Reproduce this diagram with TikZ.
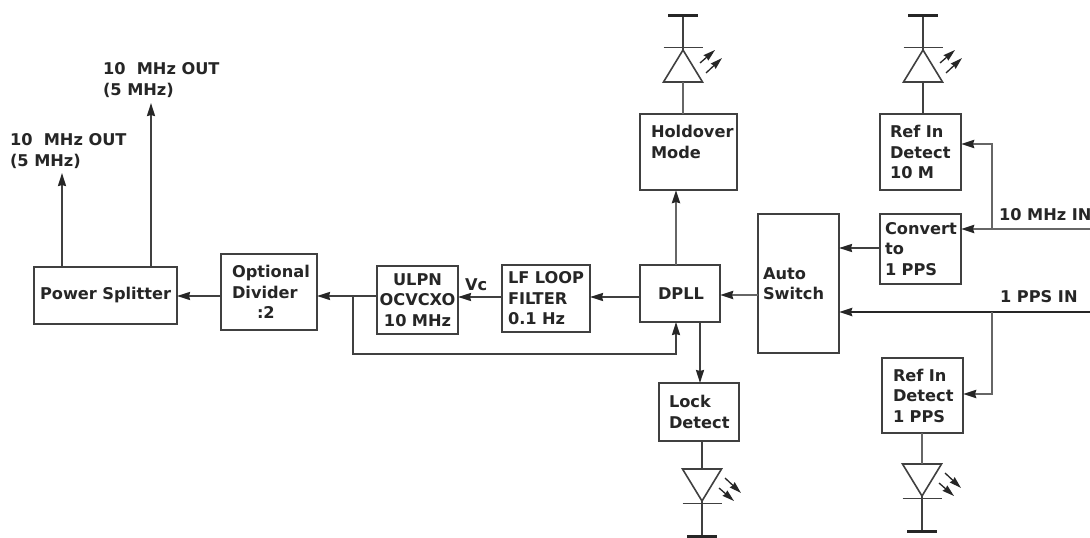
\documentclass[tikz,border=0pt]{standalone}
\usepackage{fontspec}
\setmainfont{DejaVu Sans}
\usetikzlibrary{arrows.meta,positioning}
\definecolor{wire}{gray}{0.25}

\tikzset{
  pics/led/.style={code={
    \draw[wire, line width=1.6pt, line join=miter] (-19.5,0) -- (19.5,0) -- (0,-32) -- cycle;
    \draw[wire, line width=1.6pt] (-19.5,-34.5) -- (19.5,-34.5);
    \draw[wire, line width=1.8pt] (0,-32) -- (0,-67);
    \draw[black!85, line width=3pt] (-15,-67) -- (15,-67);
    \draw[black!85, line width=1.3pt, ->, >={Stealth[length=12pt,width=7pt,inset=1pt]}] (17,-19) -- (32,-32);
    \draw[black!85, line width=1.3pt, ->, >={Stealth[length=12pt,width=7pt,inset=1pt]}] (23,-9) -- (39,-24);
  }}
}

\begin{document}
\begin{tikzpicture}[x=1pt, y=-1pt, >={Stealth[length=13pt,width=8pt,inset=1pt,color=black!85]},
  blk/.style n args={3}{draw=wire, line width=2.1pt, outer sep=0pt, align=left,
    minimum width=#1pt, minimum height=#2pt, inner xsep=#3pt, inner ysep=0pt, text width=#1pt-2*#3pt,
    font=\fontsize{16.2}{20.5}\selectfont\bfseries, text=black!85},
  txt/.style={inner sep=0pt, outer sep=0pt, align=left, font=\fontsize{16.2}{21}\selectfont\bfseries, text=black!85},
  conn/.style={draw=wire, line width=1.9pt},
  fat/.style={draw=wire!80, line width=2.6pt}]
  \useasboundingbox (0,0) rectangle (1090,538);
  \fill[white] (0,0) rectangle (1090,538);

  % main row
  \node[blk={143}{57}{6}] (power) at (105.5,295.5) {\mbox{Power Splitter}};
  \node[blk={96}{76}{11}] (divider) [right=44pt of power, yshift=3.5pt] {Optional\\Divider\\\hspace*{25pt}:2};
  \node[blk={81}{68}{0}, align=center] (ulpn) [right=60pt of divider, yshift=-8pt] {ULPN\\OCVCXO\\10 MHz};
  \node[blk={88}{67}{6}] (lf) [right=44pt of ulpn, yshift=1.5pt] {LF LOOP\\FILTER\\0.1 Hz};
  \node[blk={80}{57}{18}] (dpll) [right=50pt of lf, yshift=5pt] {\raisebox{-1.5pt}{DPLL}};
  \node[blk={81}{139}{5}] (auto) [right=38pt of dpll, yshift=10pt] {Auto\\Switch};
  \node[blk={81}{70}{5}] (convert) [right=41pt of auto, yshift=34.5pt] {Convert\\to\\1 PPS};

  % detect boxes
  \node[blk={97}{76}{11}] (holdover) [above=75pt of dpll, xshift=8.5pt] {Holdover\\Mode\\~};
  \node[blk={81}{76}{10}] (ref10) [above=24pt of convert] {Ref In\\Detect\\10 M};
  \node[blk={81}{75}{11}] (refpps) [below=74pt of convert, xshift=2pt] {Ref In\\Detect\\1 PPS};
  \node[blk={80}{58}{10}] (lock) [below=61pt of dpll, xshift=19pt] {Lock\\Detect};

  % labels
  \node[txt, anchor=west] (outb) at (103,80) {10\ \ MHz OUT\\(5 MHz)};
  \node[txt, anchor=west] (outa) at (10,151) {10\ \ MHz OUT\\(5 MHz)};
  \node[txt, anchor=west] (vc) at (465,285) {Vc};
  \node[txt, anchor=west] (tenin) at (999,215) {10 MHz IN};
  \node[txt, anchor=west] (ppsin) at (1000,297) {1 PPS IN};

  % free ends and branch points
  \coordinate (outaend) at (62,173);
  \coordinate (outbend) at (151,103);
  \coordinate (fbstart) at (353,296);
  \coordinate (fbend) at (676,354);
  \coordinate (lockpos) at (700,322);
  \coordinate (tenend) at (1090,229);
  \coordinate (tenjoin) at (992,229);
  \coordinate (ppsend) at (1090,312);
  \coordinate (ppsjoin) at (992,312);
  \coordinate (refapos) at (992,144);
  \coordinate (refbpos) at (992,394);

  \draw[conn, ->] (outaend |- power.north) -- (outaend);
  \draw[conn, ->] (outbend |- power.north) -- (outbend);
  \draw[conn, ->] (divider.west |- 0,296) -- (power.east |- 0,296);
  \draw[conn, ->] (ulpn.west |- 0,296) -- (divider.east |- 0,296);
  \draw[conn, ->] (lf.west |- 0,297) -- (ulpn.east |- 0,297);
  \draw[conn, ->] (dpll.west |- 0,297) -- (lf.east |- 0,297);
  \draw[conn, ->] (fbstart) |- (fbend) -- (fbend |- dpll.south);
  \draw[fat, ->] (auto.west |- 0,295) -- (dpll.east |- 0,295);
  \draw[conn, ->] (convert.west |- 0,248) -- (auto.east |- 0,248);
  \draw[fat, ->] (fbend |- dpll.north) -- (fbend |- holdover.south);
  \draw[conn, ->] (lockpos |- dpll.south) -- (lockpos |- lock.north);
  \draw[fat, ->] (tenend) -- (convert.east |- tenend);
  \draw[fat, ->] (tenjoin) -- (refapos) -- (ref10.east |- refapos);
  \draw[draw=black!85, line width=2.8pt, ->] (ppsend) -- (auto.east |- ppsend);
  \draw[fat, ->] (ppsjoin) -- (refbpos) -- (refpps.east |- refbpos);

  % leds
  \coordinate (ledhold) at (683,82);
  \coordinate (ledref) at (923,82);
  \coordinate (ledlock) at (702,469);
  \coordinate (ledpps) at (922,464);
  \pic at (ledhold) {led};
  \pic at (ledref) {led};
  \pic[yscale=-1] at (ledlock) {led};
  \pic[yscale=-1] at (ledpps) {led};
  \draw[fat] (ledhold |- holdover.north) -- (ledhold);
  \draw[conn] (ledref |- ref10.north) -- (ledref);
  \draw[conn] (ledlock |- lock.south) -- (ledlock);
  \draw[fat] (ledpps |- refpps.south) -- (ledpps);
\end{tikzpicture}
\end{document}
